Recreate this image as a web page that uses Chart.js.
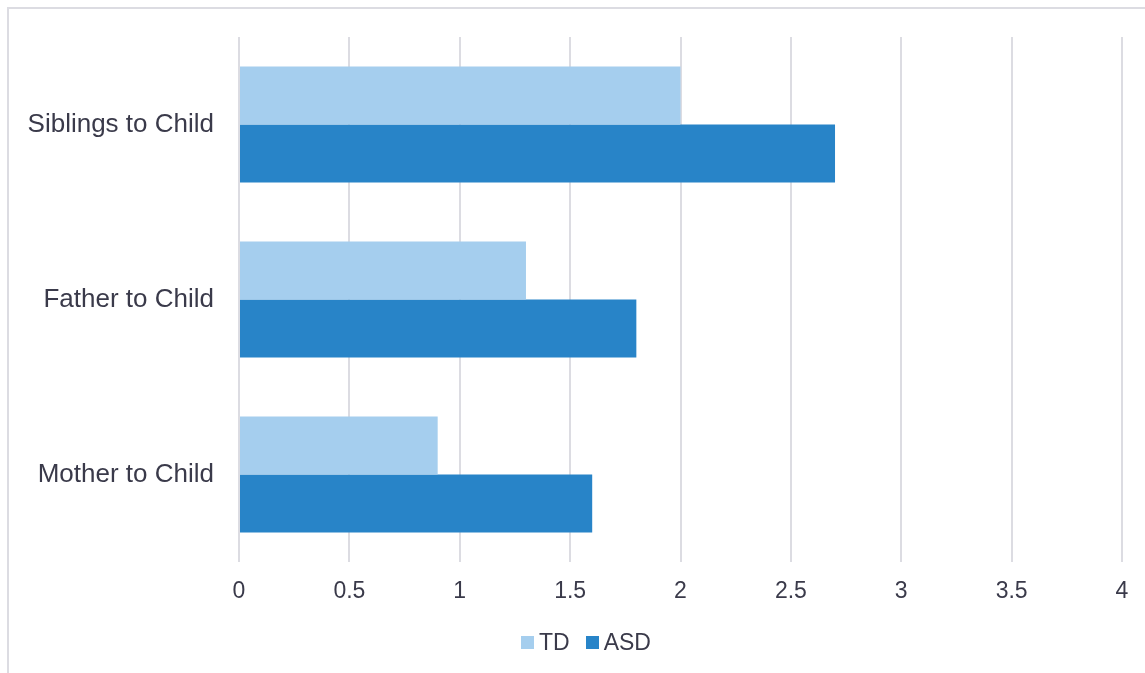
<!DOCTYPE html>
<html>
<head>
<meta charset="utf-8">
<script src="https://cdn.jsdelivr.net/npm/chart.js@4/dist/chart.umd.min.js"></script>
<style>
html,body{margin:0;padding:0;background:#fff;overflow:hidden;}
#frame{position:absolute;left:7px;top:7px;width:1200px;height:700px;border-left:2px solid #dcdce2;border-top:2px solid #dcdce2;box-sizing:border-box;}
#wrap{position:absolute;left:0;top:0;width:1145px;height:673px;}
#legend{position:absolute;left:521px;top:629px;height:26px;display:flex;align-items:center;font-family:'Liberation Sans', Arial, sans-serif;font-size:23px;color:#3a3a4a;white-space:nowrap;}
#legend .box{width:13px;height:13px;display:inline-block;margin-right:5px;}
#legend .item{display:flex;align-items:center;margin-right:16px;line-height:26px;}
</style>
</head>
<body>
<div id="frame"></div>
<div id="wrap"><canvas id="c" width="1145" height="673"></canvas></div>
<div id="legend"></div>
<script>
const categories = ["Siblings to Child", "Father to Child", "Mother to Child"];
const tdValues = [2.0, 1.3, 0.9];
const asdValues = [2.7, 1.8, 1.6];
const seriesNames = ["TD", "ASD"];
const xMin = 0, xMax = 4, xStep = 0.5;

const textColor = '#3a3a4a';
const gridColor = '#dcdce2';

const chart = new Chart(document.getElementById('c'), {
  type: 'bar',
  data: {
    labels: categories,
    datasets: [
      {label: seriesNames[0], data: tdValues, backgroundColor: '#a5ceee', borderWidth: 0},
      {label: seriesNames[1], data: asdValues, backgroundColor: '#2884c8', borderWidth: 0}
    ]
  },
  options: {
    indexAxis: 'y',
    responsive: false,
    animation: false,
    devicePixelRatio: 1,
    layout: {padding: {left: 0, right: 23, top: 37, bottom: 57}},
    datasets: {bar: {categoryPercentage: 0.663, barPercentage: 1.0}},
    scales: {
      x: {
        min: xMin, max: xMax,
        border: {display: false},
        grid: {color: gridColor, lineWidth: 2, drawTicks: false},
        ticks: {stepSize: xStep, color: textColor, font: {family: 'Liberation Sans, Arial, sans-serif', size: 23}, padding: 16,
          callback: (v) => String(Math.round(v * 10) / 10)},
        afterFit: (s) => { s.height = 54; s.paddingLeft = 0; s.paddingRight = 0; }
      },
      y: {
        border: {display: false},
        grid: {display: false, drawTicks: false},
        ticks: {color: textColor, font: {family: 'Liberation Sans, Arial, sans-serif', size: 26}, padding: 25},
        afterFit: (s) => { s.width = 239; s.paddingTop = 0; s.paddingBottom = 0; }
      }
    },
    plugins: {
      tooltip: {enabled: false},
      legend: {display: false}
    }
  }
});

const legendEl = document.getElementById('legend');
chart.data.datasets.forEach((ds) => {
  const item = document.createElement('span');
  item.className = 'item';
  const box = document.createElement('span');
  box.className = 'box';
  box.style.background = ds.backgroundColor;
  const txt = document.createElement('span');
  txt.textContent = ds.label;
  item.appendChild(box);
  item.appendChild(txt);
  legendEl.appendChild(item);
});
</script>
</body>
</html>
